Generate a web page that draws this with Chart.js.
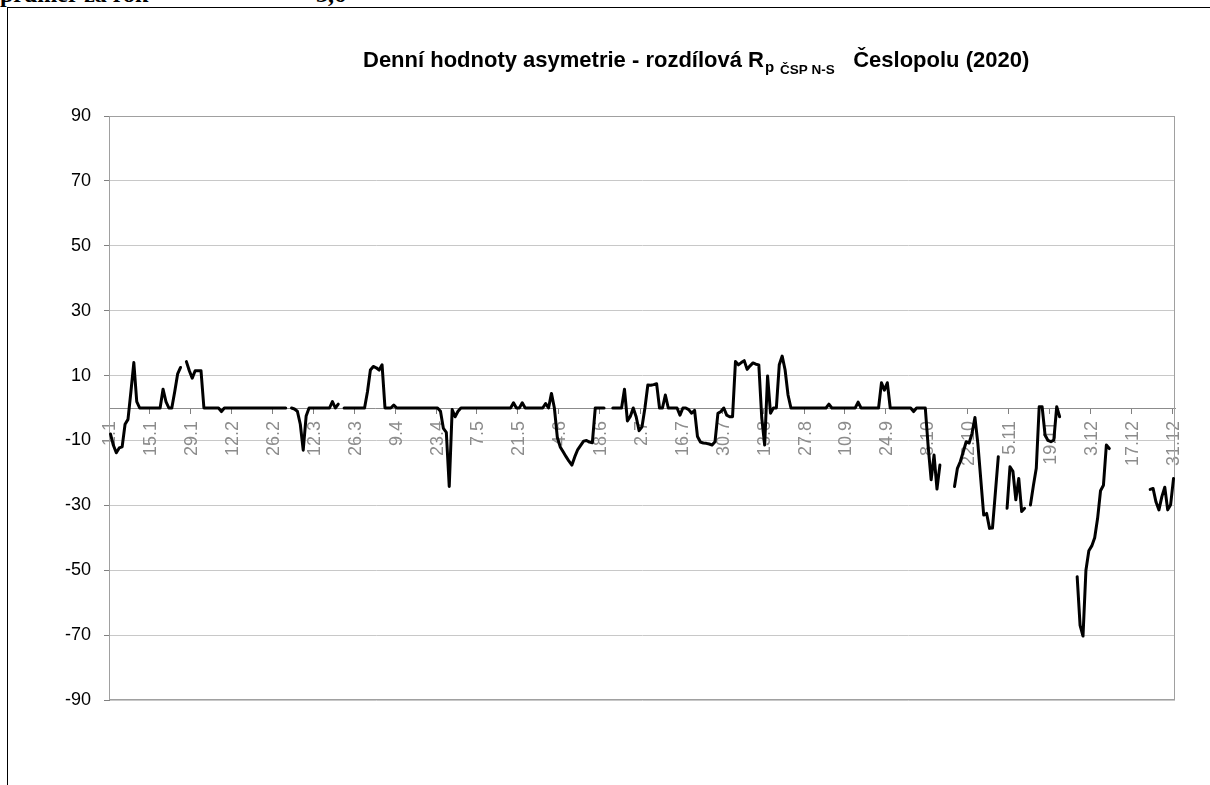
<!DOCTYPE html>
<html>
<head>
<meta charset="utf-8">
<script src="https://cdn.jsdelivr.net/npm/chart.js@4.4.0/dist/chart.umd.min.js"></script>
<style>
  body { margin: 0; background: #fff; }
  #wrap { position: relative; width: 1210px; height: 785px; overflow: hidden; background: #fff; }
  #frame { position: absolute; left: 7px; top: 7px; width: 1210px; height: 800px; border-left: 1px solid #000; border-top: 1px solid #000; }
  .note { position: absolute; top: -19px; font: bold 24px "Liberation Serif", "Times New Roman", serif; white-space: nowrap; }
  canvas { position: absolute; left: 0; top: 0; }
</style>
</head>
<body>
<div id="wrap">
  <div class="note" style="left:0px">průměr za rok</div>
  <div class="note" style="left:316px">3,6</div>
  <div id="frame"></div>
  <canvas id="asym-graph" width="1210" height="785"></canvas>
</div>
<script>
// chart title, split into normal and subscript parts
const titleMain = 'Denní hodnoty asymetrie - rozdílová R';
const titleSubP = 'p';
const titleSubCsp = 'ČSP N-S';
const titleEnd = 'Česlopolu (2020)';

// 2020 daily values, one row per 14 days (365 days, no 29.2)
const monthLengths = [31, 28, 31, 30, 31, 30, 31, 31, 30, 31, 30, 31];
const tickLabels = ['1.1', '15.1', '29.1', '12.2', '26.2', '12.3', '26.3', '9.4', '23.4', '7.5',
    '21.5', '4.6', '18.6', '2.7', '16.7', '30.7', '13.8', '27.8', '10.9', '24.9',
    '8.10', '22.10', '5.11', '19.11', '3.12', '17.12', '31.12'];

const asymmetry = [
    -8, -11.5, -13.8, -12.3, -12, -5, -3.5, 5, 14, 2, 0, 0, 0, 0,
    0, 0, 0, 0, 5.8, 2, 0, 0, 5, 10.5, 12.5, null, 14.3, 11.5,
    9.2, 11.5, 11.5, 11.5, 0, 0, 0, 0, 0, 0, -1.1, 0, 0, 0,
    0, 0, 0, 0, 0, 0, 0, 0, 0, 0, 0, 0, 0, 0,
    0, 0, 0, 0, 0, null, 0, -0.3, -1, -5, -13, -2.5, 0, 0,
    0, 0, 0, 0, 0, 0, 2, 0, 1.2, null, 0, 0, 0, 0,
    0, 0, 0, 0, 5, 11.7, 12.8, 12.4, 11.7, 13.3, 0, 0, 0, 0.9,
    0, 0, 0, 0, 0, 0, 0, 0, 0, 0, 0, 0, 0, 0,
    0, -1, -6.3, -7.5, -24.2, -0.5, -2.7, -1, 0, 0, 0, 0, 0, 0,
    0, 0, 0, 0, 0, 0, 0, 0, 0, 0, 0, 0, 1.6, 0,
    0, 1.6, 0, 0, 0, 0, 0, 0, 0, 1.4, 0, 4.5, 0, -9,
    -12, -13.5, -15, -16.4, -17.6, -15, -12.8, -11.5, -10.2, -10, -10.5, -10.7, 0, 0,
    0, 0, null, null, 0, 0, 0, 0, 5.8, -4, -2.6, 0, -2.7, -7,
    -5.8, 0, 7.1, 7, 7.2, 7.5, 0, 0, 4, 0, 0, 0, 0, -2.2,
    0, 0, -0.5, -1.6, -0.7, -8.8, -10.5, -10.8, -10.9, -11.1, -11.4, -10.4, -1.6, -1.1,
    0, -2.2, -2.7, -2.7, 14.3, 13.3, 14, 14.6, 11.9, 13, 13.9, 13.5, 13.3, -3,
    -11.4, 9.9, -1.6, 0, 0, 13.3, 16, 11.7, 4, 0, 0, 0, 0, 0,
    0, 0, 0, 0, 0, 0, 0, 0, 1.2, 0, 0, 0, 0, 0,
    0, 0, 0, 0, 1.8, 0, 0, 0, 0, 0, 0, 0, 7.8, 5.5,
    7.8, 0, 0, 0, 0, 0, 0, 0, 0, -1.1, 0, 0, 0, 0,
    -12, -22.1, -14.5, -25, -17.6, null, null, null, null, -24.2, -18.6, -16.5, -13.5, -10.4,
    -10.8, -7.8, -2.9, -11, -22, -33, -32.5, -37.1, -37, -26, -15, null, null, -30.9,
    -18.1, -19.5, -28.3, -21.7, -31.9, -30.9, null, -29.9, -24, -18.6, 0.4, 0.4, -8.3, -10,
    -10.4, -9.9, 0.4, -2.7, null, null, null, null, null, -52, -67, -70.3, -50, -44,
    -42.5, -40, -34, -25.5, -23.8, -11.4, -12.5, null, null, null, null, null, null, null,
    null, null, null, null, null, null, -25.1, -24.8, -29, -31.4, -27.3, -24.4, -31.4, -29.8,
    -21.7
];

// category labels d.m for every day
let days = [];
monthLengths.forEach((len, m) => {
    for (let d = 1; d <= len; d++) days.push(d + '.' + (m + 1));
});

const FONT = '"Liberation Sans", Arial, sans-serif';

// title with subscripts, drawn on the canvas part by part
const subTitlePlugin = {
    id: 'subTitle',
    afterDraw(chart) {
        const ctx = chart.ctx;
        const parts = [
            { text: titleMain, size: 22, dy: 0, gap: 1 },
            { text: titleSubP, size: 15, dy: 5, gap: 6 },
            { text: titleSubCsp, size: 13.5, dy: 7, gap: 0 },
            { text: '   ' + titleEnd, size: 22, dy: 0, gap: 0 }
        ];
        ctx.save();
        ctx.fillStyle = '#000';
        ctx.textBaseline = 'alphabetic';
        ctx.textAlign = 'left';
        let x = 363;
        parts.forEach(p => {
            ctx.font = 'bold ' + p.size + 'px ' + FONT;
            ctx.fillText(p.text, x, 67 + p.dy);
            x += ctx.measureText(p.text).width + p.gap;
        });
        ctx.restore();
    }
};

// grey border round the plot area
const plotBorder = {
    id: 'plotBorder',
    beforeDatasetsDraw(chart) {
        const a = chart.chartArea;
        const ctx = chart.ctx;
        ctx.save();
        ctx.strokeStyle = '#a0a0a0';
        ctx.lineWidth = 1;
        ctx.strokeRect(a.left + 0.5, a.top + 0.5, a.right - a.left - 1, a.bottom - a.top - 1);
        ctx.restore();
    }
};

const ctxAsym = document.getElementById('asym-graph').getContext('2d');

const asymGraph = new Chart(ctxAsym, {
    type: 'line',
    data: {
        labels: days,
        datasets: [{
            label: 'Asymetrie',
            data: asymmetry,
            borderColor: '#000',
            borderWidth: 3,
            pointRadius: 0,
            tension: 0,
            spanGaps: false,
            borderCapStyle: 'round',
            borderJoinStyle: 'round'
        }]
    },
    options: {
        responsive: false,
        animation: false,
        devicePixelRatio: 1,
        layout: { padding: { left: 0, top: 116, right: 35, bottom: 85 } },
        plugins: {
            legend: { display: false },
            title: { display: false },
            tooltip: { enabled: false }
        },
        scales: {
            x: {
                type: 'category',
                position: { y: 0 },
                offset: true,
                grid: {
                    drawOnChartArea: false,
                    offset: true,
                    tickLength: 5,
                    color: c => (c.index % 14 === 0 ? '#808080' : 'rgba(0,0,0,0)')
                },
                border: { color: '#8c8c8c', width: 1 },
                ticks: {
                    autoSkip: false,
                    minRotation: 90,
                    maxRotation: 90,
                    padding: 8,
                    color: '#8c8c8c',
                    font: { family: FONT, size: 18 },
                    callback: (v, i) => (i % 14 === 0 ? tickLabels[i / 14] : '')
                }
            },
            y: {
                position: 'left',
                min: -90,
                max: 90,
                afterFit: scale => { scale.width = 109; },
                grid: { color: '#c8c8c8', tickColor: '#808080', tickLength: 5 },
                border: { color: '#808080', width: 1 },
                ticks: {
                    stepSize: 20,
                    padding: 13,
                    color: '#000',
                    font: { family: FONT, size: 18 }
                }
            }
        }
    },
    plugins: [plotBorder, subTitlePlugin]
});
</script>
</body>
</html>
